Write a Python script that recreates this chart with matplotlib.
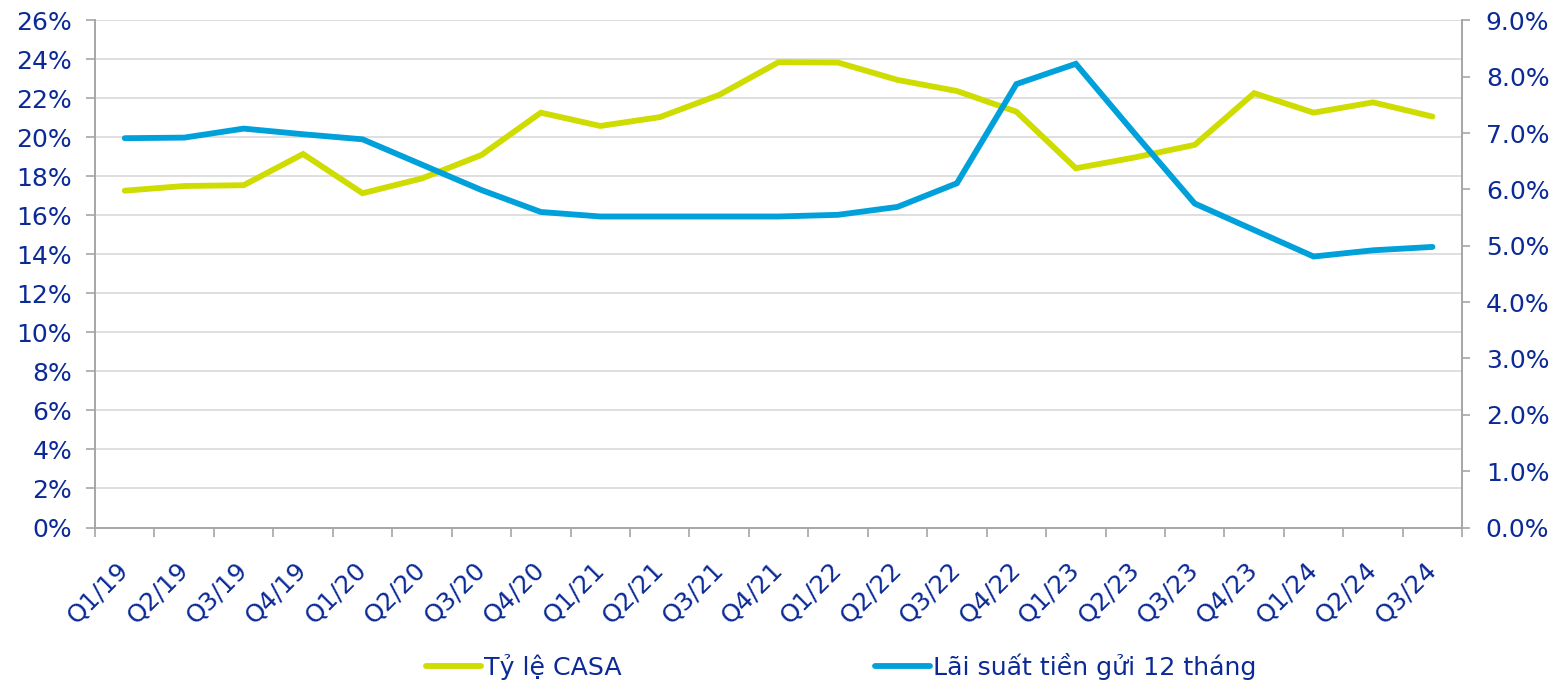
import numpy as np
import matplotlib.pyplot as plt
import matplotlib.transforms as mtransforms
from matplotlib.ticker import FixedLocator, FuncFormatter

#Data
quarters = ["Q1/19", "Q2/19", "Q3/19", "Q4/19",
            "Q1/20", "Q2/20", "Q3/20", "Q4/20",
            "Q1/21", "Q2/21", "Q3/21", "Q4/21",
            "Q1/22", "Q2/22", "Q3/22", "Q4/22",
            "Q1/23", "Q2/23", "Q3/23", "Q4/23",
            "Q1/24", "Q2/24", "Q3/24"]
casa = [17.27, 17.51, 17.55, 19.15,
        17.14, 17.90, 19.10, 21.27,
        20.59, 21.04, 22.18, 23.86,
        23.84, 22.95, 22.38, 21.32,
        18.42, 18.98, 19.62, 22.27,
        21.27, 21.80, 21.07]
deposit_rate = [6.91, 6.92, 7.08, 6.98,
                6.89, 6.44, 5.99, 5.60,
                5.52, 5.52, 5.52, 5.52,
                5.55, 5.69, 6.11, 7.87,
                8.23, 6.98, 5.75, 5.28,
                4.81, 4.92, 4.98]
left_ticks = list(range(0, 27, 2))
right_ticks = list(range(0, 10))

casa_label = "Tỷ lệ CASA"
rate_label = "Lãi suất tiền gửi 12 tháng"

#Colours
text_col = "#0B2A97"
casa_col = "#CEDC00"
rate_col = "#00A1DA"
axis_col = "#A6A6A6"
grid_col = "#D9D9D9"

plt.rcParams['font.family'] = ['DejaVu Sans']
plt.rcParams['font.size'] = 18

fig = plt.figure(figsize=(15.58, 6.81), dpi=100)
ax = fig.add_axes([0.061, 0.2254, 0.8775, 0.7446])
ax2 = ax.twinx()

x = np.arange(len(quarters))
l1, = ax.plot(x, casa, color=casa_col, lw=4.2, solid_capstyle='round', solid_joinstyle='miter')
l2, = ax2.plot(x, deposit_rate, color=rate_col, lw=4.2, solid_capstyle='round', solid_joinstyle='miter')

ax.set_xlim(-0.5, len(quarters) - 0.5)
ax.set_ylim(0, 26)
ax2.set_ylim(0, 9)

#Left axis
ax.yaxis.set_major_locator(FixedLocator(left_ticks))
ax.yaxis.set_major_formatter(FuncFormatter(lambda v, p: f"{v:.0f}%"))
ax.grid(axis='y', color=grid_col, lw=1.2)
ax.set_axisbelow(True)

#Right axis
ax2.yaxis.set_major_locator(FixedLocator(right_ticks))
ax2.yaxis.set_major_formatter(FuncFormatter(lambda v, p: f"{v:.1f}%"))

#Category boundaries as major ticks, labels on minor ticks at the centres
ax.xaxis.set_major_locator(FixedLocator(np.arange(-0.5, len(quarters), 1.0)))
ax.xaxis.set_major_formatter(FuncFormatter(lambda v, p: ""))
ax.xaxis.set_minor_locator(FixedLocator(x))
ax.set_xticklabels(quarters, minor=True, rotation=45, ha='right', rotation_mode='anchor')
ax.tick_params(axis='x', which='major', length=6.5, width=1.2, color=axis_col, direction='out')
ax.tick_params(axis='x', which='minor', length=0, pad=22, labelcolor=text_col, labelsize=18)
ax.tick_params(axis='y', length=6.5, width=1.2, color=axis_col, labelcolor=text_col, labelsize=18, pad=10)
ax2.tick_params(axis='y', length=6, width=1.2, color=axis_col, labelcolor=text_col, labelsize=18, pad=11)

#shift the rotated labels a bit to the left, like the reference
shift = mtransforms.ScaledTranslation(-8 / 100, 0, fig.dpi_scale_trans)
for lab in ax.get_xticklabels(minor=True):
    lab.set_transform(lab.get_transform() + shift)

for a in (ax, ax2):
    a.spines['top'].set_visible(False)
    for s in ('left', 'right', 'bottom'):
        a.spines[s].set_color(axis_col)
        a.spines[s].set_linewidth(1.2)

fig.legend([l1, l2], [casa_label, rate_label], loc='center', bbox_to_anchor=(0.540, 0.022),
           ncol=2, frameon=False, fontsize=18.2, labelcolor=text_col, handlelength=2.2,
           handletextpad=0.12, columnspacing=10.0, borderpad=0, borderaxespad=0)

fig.savefig("out.png", dpi=100)
